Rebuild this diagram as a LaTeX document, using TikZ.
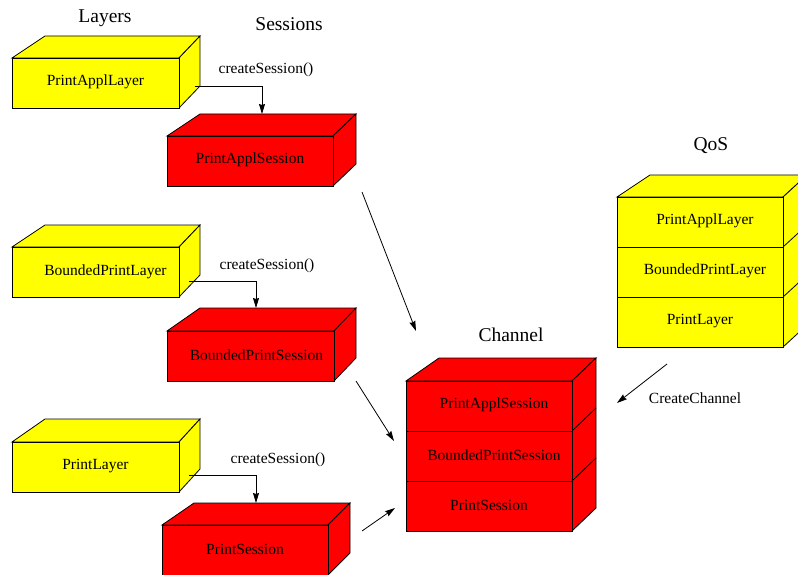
\documentclass[tikz,border=0pt]{standalone}
\usepackage{fontspec}
\setmainfont{Liberation Serif}
\usetikzlibrary{arrows.meta,calc}
\definecolor{lyel}{RGB}{255,255,0}
\definecolor{sred}{RGB}{255,0,0}
\tikzset{
  face/.style={draw=black, line width=0.8pt, line join=miter},
  front/.style={face, inner sep=0pt, outer sep=0pt, minimum width=167pt, minimum height=50pt, anchor=north west},
  lay/.style={front, fill=lyel},
  ses/.style={front, fill=sred},
  txt/.style={inner sep=0pt, font=\fontsize{15.5}{18}\selectfont},
  head/.style={font=\fontsize{19.5}{22}\selectfont},
  small/.style={font=\fontsize{15.5}{18}\selectfont},
  arr/.style={draw=black, line width=0.8pt, -{Stealth[length=10pt,width=6pt,inset=1pt]}}
}
% x1 y1 x2 y2 dl dr dy colour
\newcommand\cubefaces[8]{%
  \filldraw[face, fill=#8] (#1,#2) -- ({#1+#5},{#2-#7}) -- ({#3+#6},{#2-#7}) -- (#3,#2) -- cycle;
  \filldraw[face, fill=#8] (#3,#2) -- ({#3+#6},{#2-#7}) -- ({#3+#6},{#4-#7}) -- (#3,#4) -- cycle;
}
\begin{document}
\begin{tikzpicture}[x=1pt,y=-1pt]
\useasboundingbox (0,0) rectangle (798,575);
\clip (0,0) rectangle (798,575);

% headings
\node[head] (hlay) at (105,18) {Layers};
\node[head] (hses) at (289,24) {Sessions};
\node[head] (hch) at (511,335) {Channel};
\node[head] (hqos) at (711,146) {QoS};

% Layer boxes
\cubefaces{12}{58}{179}{108}{33}{21}{22}{lyel}
\node[lay] (l1) at (12,58) {};
\node[txt] (l1t) at ($(l1.center)+(0,-1)$) {PrintApplLayer};
\cubefaces{12}{247}{179}{297}{33}{21}{22}{lyel}
\node[lay] (l2) at (12,247) {};
\node[txt] (l2t) at ($(l2.center)+(10,0)$) {BoundedPrintLayer};
\cubefaces{12}{442}{179}{492}{33}{21}{23}{lyel}
\node[lay] (l3) at (12,442) {};
\node[txt] (l3t) at ($(l3.center)+(0,-1)$) {PrintLayer};

% Session boxes
\cubefaces{167}{136}{333}{186}{33}{23}{22}{sred}
\node[ses, minimum width=166pt] (s1) at (167,136) {};
\node[txt] (s1t) at ($(s1.center)+(0,-1)$) {PrintApplSession};
\cubefaces{167}{331}{334}{381}{33}{22}{23}{sred}
\node[ses] (s2) at (167,331) {};
\node[txt] (s2t) at ($(s2.center)+(6,-1)$) {BoundedPrintSession};
\cubefaces{162}{525}{328}{575}{32}{22}{22}{sred}
\node[ses, minimum width=166pt] (s3) at (162,525) {};
\node[txt] (s3t) at ($(s3.center)+(0,-1)$) {PrintSession};

% QoS stack
\cubefaces{617}{197}{783}{347}{33}{24}{22}{lyel}
\draw[face] (783,247) -- (807,225);
\draw[face] (783,297) -- (807,275);
\node[lay, minimum width=166pt] (q1) at (617,197) {};
\node[lay, minimum width=166pt] (q2) at (617,247) {};
\node[lay, minimum width=166pt] (q3) at (617,297) {};
\node[txt] (q1t) at ($(q1.center)+(5,-1)$) {PrintApplLayer};
\node[txt] (q2t) at ($(q2.center)+(5,-1)$) {BoundedPrintLayer};
\node[txt] (q3t) at ($(q3.center)+(0,-1)$) {PrintLayer};

% Channel stack
\cubefaces{406}{381}{572}{531}{33}{24}{23}{sred}
\draw[face] (572,431) -- (596,408);
\draw[face] (572,481) -- (596,458);
\node[ses, minimum width=166pt] (c1) at (406,381) {};
\node[ses, minimum width=166pt] (c2) at (406,431) {};
\node[ses, minimum width=166pt] (c3) at (406,481) {};
\node[txt] (c1t) at ($(c1.center)+(5,-1)$) {PrintApplSession};
\node[txt] (c2t) at ($(c2.center)+(5,-1)$) {BoundedPrintSession};
\node[txt] (c3t) at ($(c3.center)+(0,-1)$) {PrintSession};

% createSession connectors
\coordinate (a1s) at (195,86);
\coordinate (a1e) at (262,114);
\draw[arr] (a1s) -| (a1e);
\node[small] (cs1) at (266,70) {createSession()};

\coordinate (a2s) at (189,281);
\coordinate (a2e) at (256,308);
\draw[arr] (a2s) -| (a2e);
\node[small] (cs2) at (267,266) {createSession()};

\coordinate (a3s) at (189,475);
\coordinate (a3e) at (256,503);
\draw[arr] (a3s) -| (a3e);
\node[small] (cs3) at (278,460) {createSession()};

% arrows to channel
\coordinate (d1s) at (362,192);
\coordinate (d1e) at (416,331);
\draw[arr] (d1s) -- (d1e);
\coordinate (d2s) at (356,381);
\coordinate (d2e) at (394,441);
\draw[arr] (d2s) -- (d2e);
\coordinate (d3s) at (362,531);
\coordinate (d3e) at (395,508);
\draw[arr] (d3s) -- (d3e);

% CreateChannel
\coordinate (ccs) at (667,364);
\coordinate (cce) at (617,403);
\draw[arr] (ccs) -- (cce);
\node[small] (cc) at (695,398) {CreateChannel};
\end{tikzpicture}
\end{document}
